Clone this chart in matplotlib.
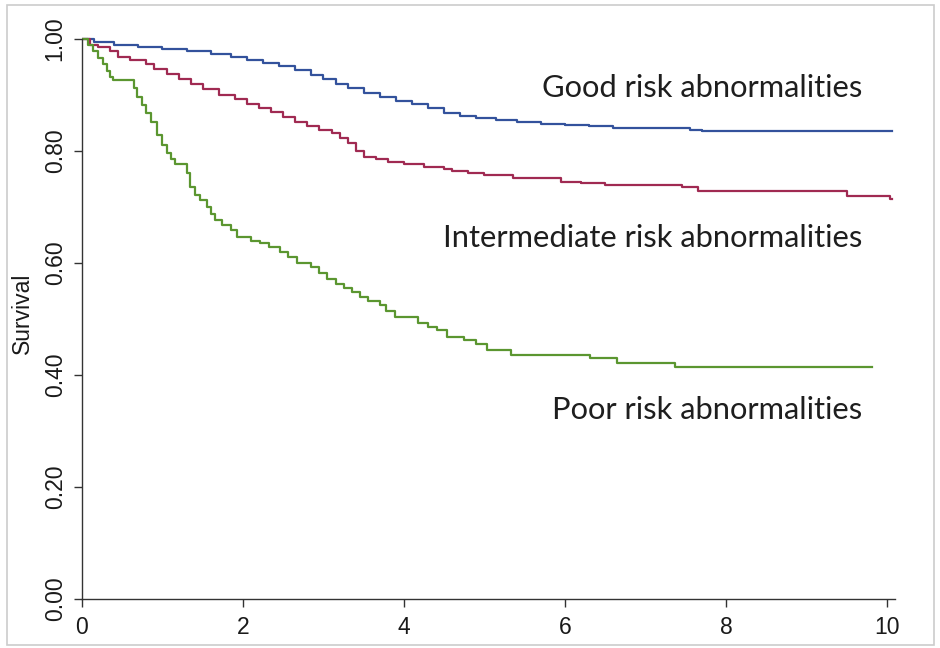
import matplotlib.pyplot as plt
from matplotlib.patches import Rectangle

# ── Kaplan-Meier Daten (Zeit in Jahren, Überlebensrate) ───────────────
good_t = [0, 0.15, 0.4, 0.7, 1.0, 1.3, 1.6, 1.85, 2.05, 2.25, 2.45, 2.65,
          2.85, 3.0, 3.15, 3.3, 3.5, 3.7, 3.9, 4.1, 4.3, 4.5, 4.7, 4.9,
          5.15, 5.4, 5.7, 6.0, 6.3, 6.6, 7.55, 7.7, 10.07]
good_s = [1.0, 0.995, 0.99, 0.986, 0.982, 0.978, 0.974, 0.968, 0.963, 0.957,
          0.951, 0.944, 0.936, 0.928, 0.92, 0.912, 0.903, 0.896, 0.89, 0.884,
          0.876, 0.868, 0.863, 0.859, 0.855, 0.852, 0.849, 0.847, 0.844,
          0.841, 0.838, 0.835, 0.835]

inter_t = [0, 0.1, 0.2, 0.35, 0.45, 0.6, 0.8, 0.9, 1.05, 1.2, 1.35, 1.5,
           1.7, 1.9, 2.05, 2.2, 2.35, 2.5, 2.65, 2.8, 2.95, 3.1, 3.2, 3.3,
           3.4, 3.5, 3.65, 3.8, 4.0, 4.25, 4.5, 4.6, 4.8, 5.0, 5.35, 5.95,
           6.2, 6.5, 7.45, 7.65, 9.5, 10.04, 10.07]
inter_s = [1.0, 0.99, 0.985, 0.978, 0.968, 0.962, 0.956, 0.946, 0.938, 0.928,
           0.92, 0.91, 0.9, 0.892, 0.884, 0.877, 0.869, 0.86, 0.852, 0.844,
           0.838, 0.832, 0.824, 0.814, 0.80, 0.79, 0.786, 0.781, 0.776, 0.772,
           0.768, 0.765, 0.761, 0.757, 0.752, 0.745, 0.742, 0.739, 0.736,
           0.729, 0.72, 0.714, 0.714]

poor_t = [0, 0.08, 0.14, 0.2, 0.26, 0.31, 0.35, 0.39, 0.64, 0.68, 0.74, 0.8,
          0.86, 0.93, 0.99, 1.05, 1.1, 1.16, 1.3, 1.34, 1.4, 1.47, 1.55, 1.6,
          1.65, 1.74, 1.85, 1.93, 2.1, 2.21, 2.32, 2.46, 2.56, 2.67, 2.85,
          2.95, 3.05, 3.15, 3.25, 3.35, 3.45, 3.55, 3.7, 3.78, 3.89, 4.18,
          4.3, 4.41, 4.53, 4.75, 4.9, 5.03, 5.33, 6.31, 6.65, 7.37, 9.81]
poor_s = [1.0, 0.99, 0.978, 0.966, 0.955, 0.943, 0.932, 0.927, 0.912, 0.896,
          0.882, 0.868, 0.852, 0.828, 0.81, 0.796, 0.785, 0.777, 0.76, 0.735,
          0.722, 0.712, 0.70, 0.688, 0.677, 0.668, 0.659, 0.646, 0.64, 0.636,
          0.628, 0.62, 0.61, 0.60, 0.593, 0.583, 0.572, 0.563, 0.555, 0.548,
          0.54, 0.533, 0.525, 0.515, 0.504, 0.493, 0.486, 0.48, 0.468, 0.462,
          0.455, 0.445, 0.436, 0.43, 0.421, 0.414, 0.414]

x_ticks = [0, 2, 4, 6, 8, 10]
y_ticks = [0.0, 0.2, 0.4, 0.6, 0.8, 1.0]

labels = ["Good risk abnormalities",
          "Intermediate risk abnormalities",
          "Poor risk abnormalities"]
label_y = [0.9125, 0.645, 0.3375]

colors = ["#33529c", "#a02a52", "#5b9630"]

# ── Grafik ────────────────────────────────────────────────────────────
fig = plt.figure(figsize=(9.4, 6.48), dpi=100)
ax = fig.add_axes([82 / 940, 49 / 648, 829 / 940, 571.2 / 648])

for t, s, c in zip([good_t, inter_t, poor_t],
                   [good_s, inter_s, poor_s], colors):
    ax.step(t, s, where="post", color=c, lw=1.6)

ax.set_xlim(0, 10.3)
ax.set_ylim(0, 1.02)

# Achsen im R-Stil: nur von erstem bis letztem Tick
for side in ["top", "right"]:
    ax.spines[side].set_visible(False)
ax.spines["bottom"].set_bounds(0, 10.1)
ax.spines["left"].set_bounds(0, 1.0)
for side in ["bottom", "left"]:
    ax.spines[side].set_color("#333333")
    ax.spines[side].set_linewidth(1.0)

ax.set_xticks(x_ticks)
ax.set_yticks(y_ticks)
ax.set_yticklabels([f"{v:.2f}" for v in y_ticks], rotation=90, va="center")
ax.tick_params(direction="out", length=6, width=1, color="#333333",
               labelsize=16.5, labelcolor="#1a1a1a")
ax.tick_params(axis="x", pad=6)
ax.tick_params(axis="y", pad=5)
for lab in ax.get_xticklabels() + ax.get_yticklabels():
    lab.set_family("Liberation Sans")

ax.set_ylabel("Survival", fontsize=16.5, family="Liberation Sans",
              color="#1a1a1a")
ax.yaxis.set_label_coords(-0.058, 0.5)

# Beschriftung der Kurven
for text, y in zip(labels, label_y):
    ax.text(9.69, y, text, ha="right", va="center", fontsize=22.2,
            family="Lato", color="#1e1e1e")

# heller Rahmen um das Bild
fig.patches.append(Rectangle((7 / 940, 3 / 648), 927 / 940, 640 / 648,
                             transform=fig.transFigure, fill=False,
                             edgecolor="#cccccc", lw=1.2))

fig.savefig("out.png", dpi=100)
